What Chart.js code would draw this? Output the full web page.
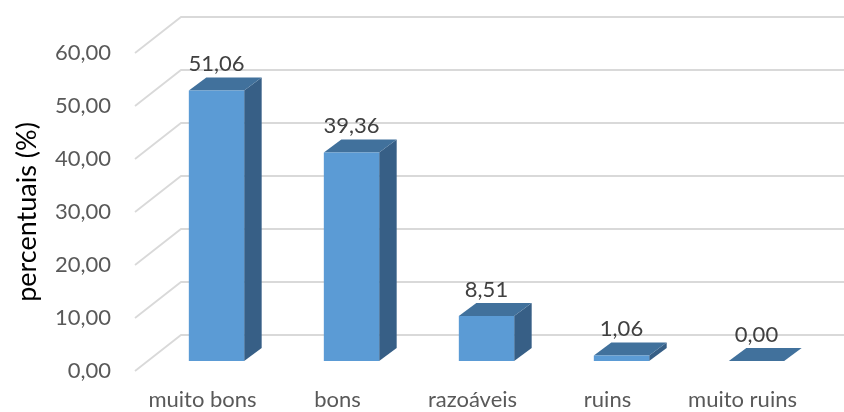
<!DOCTYPE html>
<html>
<head>
<meta charset="utf-8">
<script src="https://cdn.jsdelivr.net/npm/chart.js@4/dist/chart.umd.min.js"></script>
<style>
  html, body { margin: 0; padding: 0; background: #fff; }
  canvas { display: block; }
</style>
</head>
<body>
<canvas id="chart" width="844" height="412"></canvas>
<script>
// Categories and values (percent)
const categories = ['muito bons', 'bons', 'razoáveis', 'ruins', 'muito ruins'];
const percentuais = [51.06, 39.36, 8.51, 1.06, 0.00];
const yMin = 0;
const yMax = 60;
const yStep = 10;

const fmt = v => Number(v).toFixed(2).replace('.', ',');

// Oblique projection offsets used for the pseudo-3D look
const WALL = { dx: 46, dy: -36 };      // back wall relative to the front floor edge
const BAR_SHIFT = { dx: 14, dy: -10 }; // bar front face relative to the front plane
const BAR_DEPTH = { dx: 17.5, dy: -13 };

const COLORS = {
  front: '#5B9BD5',
  top: '#41719C',
  side: '#375F86',
  grid: '#D9D9D9',
  tick: '#595959',
  label: '#404040'
};

const bar3d = {
  id: 'bar3d',
  beforeDatasetsDraw(chart) {
    const { ctx, chartArea, scales } = chart;
    const y = scales.y;
    // back-wall gridlines with their diagonal floor/side edges
    ctx.save();
    ctx.strokeStyle = COLORS.grid;
    ctx.lineWidth = 1.8;
    y.ticks.forEach(t => {
      const py = y.getPixelForValue(t.value);
      ctx.beginPath();
      ctx.moveTo(chartArea.left, py);
      ctx.lineTo(chartArea.left + WALL.dx, py + WALL.dy);
      ctx.lineTo(chart.width + 2, py + WALL.dy);
      ctx.stroke();
    });
    ctx.restore();

    // top and side faces of each bar
    const meta = chart.getDatasetMeta(0);
    meta.data.forEach(bar => {
      const p = bar.getProps(['x', 'y', 'base', 'width'], true);
      const l = p.x - p.width / 2 + BAR_SHIFT.dx;
      const r = p.x + p.width / 2 + BAR_SHIFT.dx;
      const t = Math.min(p.y, p.base) + BAR_SHIFT.dy;
      const b = Math.max(p.y, p.base) + BAR_SHIFT.dy;
      ctx.save();
      ctx.fillStyle = COLORS.side;
      ctx.beginPath();
      ctx.moveTo(r, t);
      ctx.lineTo(r + BAR_DEPTH.dx, t + BAR_DEPTH.dy);
      ctx.lineTo(r + BAR_DEPTH.dx, b + BAR_DEPTH.dy);
      ctx.lineTo(r, b);
      ctx.closePath();
      ctx.fill();
      ctx.fillStyle = COLORS.top;
      ctx.beginPath();
      ctx.moveTo(l, t);
      ctx.lineTo(l + BAR_DEPTH.dx, t + BAR_DEPTH.dy);
      ctx.lineTo(r + BAR_DEPTH.dx, t + BAR_DEPTH.dy);
      ctx.lineTo(r, t);
      ctx.closePath();
      ctx.fill();
      ctx.restore();
    });

    // front faces are drawn by Chart.js, shifted into the bar plane
    ctx.save();
    ctx.translate(BAR_SHIFT.dx, BAR_SHIFT.dy);
  },
  afterDatasetsDraw(chart) {
    const { ctx } = chart;
    ctx.restore();
    const meta = chart.getDatasetMeta(0);
    const data = chart.data.datasets[0].data;
    ctx.save();
    ctx.font = '22px Lato';
    ctx.fillStyle = COLORS.label;
    ctx.textAlign = 'center';
    ctx.textBaseline = 'alphabetic';
    meta.data.forEach((bar, i) => {
      const p = bar.getProps(['x', 'y', 'base'], true);
      const top = Math.min(p.y, p.base) + BAR_SHIFT.dy + BAR_DEPTH.dy;
      ctx.fillText(fmt(data[i]), p.x + BAR_SHIFT.dx, top - 6);
    });
    ctx.restore();
  }
};

new Chart(document.getElementById('chart'), {
  type: 'bar',
  data: {
    labels: categories,
    datasets: [{
      data: percentuais,
      backgroundColor: COLORS.front,
      borderWidth: 0,
      categoryPercentage: 1.0,
      barPercentage: 0.41
    }]
  },
  options: {
    responsive: false,
    animation: false,
    events: [],
    layout: { padding: { top: 53, right: 34, left: 0, bottom: 0 } },
    plugins: {
      legend: { display: false },
      tooltip: { enabled: false },
      title: { display: false }
    },
    scales: {
      x: {
        grid: { display: false, drawTicks: false },
        border: { display: false },
        ticks: {
          color: COLORS.tick,
          font: { family: 'Lato', size: 22 },
          padding: 16,
          maxRotation: 0,
          autoSkip: false
        },
        afterFit(scale) { scale.height = 41; }
      },
      y: {
        min: yMin,
        max: yMax,
        grid: { display: false, drawTicks: false },
        border: { display: false },
        ticks: {
          stepSize: yStep,
          color: COLORS.tick,
          font: { family: 'Lato', size: 22 },
          padding: 24,
          callback: v => fmt(v)
        },
        title: {
          display: true,
          text: 'percentuais (%)',
          color: '#000000',
          font: { family: 'Lato', size: 27 },
          padding: { top: 11, bottom: 0 }
        },
        afterFit(scale) { scale.width = 135; }
      }
    }
  },
  plugins: [bar3d]
});
</script>
</body>
</html>
